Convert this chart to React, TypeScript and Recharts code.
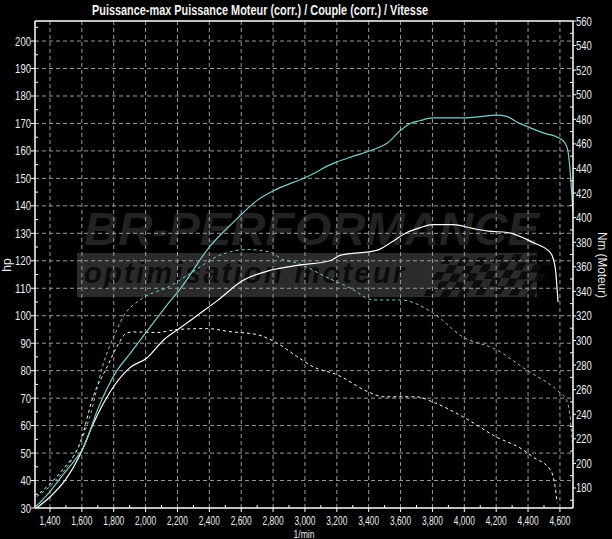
import React from 'react';
import { LineChart, Line, XAxis, YAxis, ReferenceLine } from 'recharts';

// ---- data ----
const cyanPowerRpm = [1310, 1400, 1480, 1550, 1610, 1700, 1820, 1900, 1965, 2070, 2150, 2220, 2400, 2550, 2700, 2820, 3010, 3160, 3200, 3300, 3430, 3520, 3600, 3660, 3720, 3800, 3900, 4010, 4100, 4200, 4270, 4330, 4410, 4500, 4600, 4630, 4650, 4665, 4681];
const cyanPowerHp = [30.5, 36, 42, 47, 52, 66, 80, 86, 91, 99, 105, 110, 125, 134, 142, 146, 150.5, 155, 156, 158, 160.5, 163, 167.5, 170, 171, 172, 172, 172, 172.5, 173, 172.5, 170.5, 168.5, 166.5, 164.5, 163, 160, 152, 138];

const whitePowerRpm = [1315, 1400, 1500, 1590, 1670, 1780, 1900, 2010, 2110, 2220, 2340, 2450, 2610, 2780, 2950, 3160, 3220, 3450, 3530, 3640, 3720, 3800, 3930, 4050, 4150, 4270, 4430, 4540, 4570, 4588];
const whitePowerHp = [30, 34, 40.5, 49.5, 60.5, 72.5, 81, 84.7, 91, 95.7, 100.8, 105.5, 112.8, 116.5, 118.3, 120.1, 122, 123.8, 126.3, 130.3, 132, 133.2, 133.2, 131.8, 130.8, 130.3, 126.7, 123, 117.6, 105];

const cyanTorqueRpm = [1317, 1440, 1545, 1650, 1730, 1820, 1860, 1965, 2150, 2320, 2450, 2640, 2780, 2860, 2950, 3160, 3280, 3430, 3600, 3800, 3990, 4200, 4390, 4600, 4640, 4662, 4681];
const cyanTorqueNm = [173, 186.5, 205, 238, 279, 309, 319.5, 333, 344, 358, 368.5, 374, 372, 366, 363, 350, 343, 333, 333, 322.7, 303, 292.6, 276, 257.5, 252, 240, 213];

const whiteTorqueRpm = [1337, 1480, 1590, 1670, 1760, 1820, 1880, 1920, 2070, 2200, 2385, 2530, 2700, 2820, 2950, 3050, 3200, 3410, 3490, 3700, 3800, 3990, 4200, 4370, 4430, 4540, 4570, 4582];
const whiteTorqueNm = [176, 195, 217, 254, 279, 295, 306, 307, 306.5, 309, 309.7, 307.2, 304.8, 298.3, 287, 278.7, 272.2, 257.5, 254.2, 254.2, 250.1, 238, 221.6, 211, 205.3, 194.7, 180.8, 168];

const xMajorTicks = [1400, 1600, 1800, 2000, 2200, 2400, 2600, 2800, 3000, 3200, 3400, 3600, 3800, 4000, 4200, 4400, 4600];
const xMinorTicks = [1500, 1700, 1900, 2100, 2300, 2500, 2700, 2900, 3100, 3300, 3500, 3700, 3900, 4100, 4300, 4500];
const hpMajorTicks = [30, 40, 50, 60, 70, 80, 90, 100, 110, 120, 130, 140, 150, 160, 170, 180, 190, 200];
const hpMinorTicks = [35, 45, 55, 65, 75, 85, 95, 105, 115, 125, 135, 145, 155, 165, 175, 185, 195, 205];
const nmMajorTicks = [180, 200, 220, 240, 260, 280, 300, 320, 340, 360, 380, 400, 420, 440, 460, 480, 500, 520, 540, 560];
const nmMinorTicks = [170, 190, 210, 230, 250, 270, 290, 310, 330, 350, 370, 390, 410, 430, 450, 470, 490, 510, 530, 550];

const TITLE = 'Puissance-max Puissance Moteur (corr.) / Couple (corr.) / Vitesse';

const zip = (xs: number[], ys: number[]) => xs.map((rpm, i) => ({ rpm, v: ys[i] }));
const cyanPowerData = zip(cyanPowerRpm, cyanPowerHp);
const whitePowerData = zip(whitePowerRpm, whitePowerHp);
const cyanTorqueData = zip(cyanTorqueRpm, cyanTorqueNm);
const whiteTorqueData = zip(whiteTorqueRpm, whiteTorqueNm);

const FONT = "'Liberation Sans Narrow', 'Liberation Sans', Arial, sans-serif";
const TXT = '#ececec';
const CYAN = '#7ccccc';
const GRID = '#9a9a9a';

const fmtRpm = (v: number) => `${Math.floor(v / 1000)},${String(v % 1000).padStart(3, '0')}`;

const XTick = (props: any) => {
  const { x, y, payload } = props;
  const v = payload.value as number;
  const major = xMajorTicks.includes(v);
  return (
    <g>
      <line x1={x} x2={x} y1={y - (major ? 0 : 3)} y2={y + (major ? 4 : 0)} stroke="#fff" strokeWidth={1} />
      {major && (
        <text x={x} y={y + 16.5} textAnchor="middle" fill={TXT} fontSize={13} fontFamily={FONT} textLength={21} lengthAdjust="spacingAndGlyphs">
          {fmtRpm(v)}
        </text>
      )}
    </g>
  );
};

const LeftTick = (props: any) => {
  const { x, y, payload } = props;
  const v = payload.value as number;
  const major = hpMajorTicks.includes(v);
  const s = String(v);
  return (
    <g>
      <line x1={x - (major ? 4 : 0)} x2={x + (major ? 0 : 3)} y1={y} y2={y} stroke="#fff" strokeWidth={1} />
      {major && (
        <text x={x - 4} y={y + 4.5} textAnchor="end" fill={TXT} fontSize={13} fontFamily={FONT} textLength={s.length * 5.3} lengthAdjust="spacingAndGlyphs">
          {s}
        </text>
      )}
    </g>
  );
};

const RightTick = (props: any) => {
  const { x, y, payload } = props;
  const v = payload.value as number;
  const major = nmMajorTicks.includes(v);
  const s = String(v);
  return (
    <g>
      <line x1={x - (major ? 0 : 3)} x2={x + (major ? 3 : 0)} y1={y} y2={y} stroke="#fff" strokeWidth={1} />
      {major && (
        <text x={x + 3} y={y + 4.5} textAnchor="start" fill={TXT} fontSize={13} fontFamily={FONT} textLength={s.length * 5.3} lengthAdjust="spacingAndGlyphs">
          {s}
        </text>
      )}
    </g>
  );
};

const checkers = (() => {
  const cells: { c: number; r: number }[] = [];
  for (let r = 0; r < 5; r++) {
    for (let c = 0; c < 13; c++) {
      if ((r + c) % 2 === 0) cells.push({ c, r });
    }
  }
  return cells;
})();

const Background = () => (
  <svg width={612} height={539} style={{ position: 'absolute', left: 0, top: 0 }}>
    <rect x={0} y={0} width={612} height={539} fill="#000" />
    <text x={260} y={15} textAnchor="middle" fill="#f2f2f2" fontSize={14.5} fontWeight="bold" fontFamily={FONT} textLength={336} lengthAdjust="spacingAndGlyphs">
      {TITLE}
    </text>
    {/* watermark */}
    <text x={84} y={245} fill="#222222" fontSize={46} fontWeight="bold" fontStyle="italic" fontFamily="'Liberation Sans', Arial, sans-serif" textLength={455} lengthAdjust="spacingAndGlyphs">
      BR-PERFORMANCE
    </text>
    <rect x={77} y={253} width={460} height={44} fill="#2b2b2b" />
    <text x={84} y={283} fill="#0b0b0b" fontSize={29} fontWeight="bold" fontStyle="italic" fontFamily="'Liberation Sans', Arial, sans-serif" textLength={320} lengthAdjust="spacing">
      optimisation moteur
    </text>
    <g transform="translate(425,256) skewX(-28)">
      {checkers.map((k, i) => (
        <rect key={i} x={k.c * 8.5 + 20} y={k.r * 8 + Math.sin(k.c * 0.6) * 2} width={8.5} height={8} fill="#0d0d0d" />
      ))}
    </g>
    <text x={7} y={265} transform="rotate(-90 7 265)" textAnchor="middle" dominantBaseline="central" fill={TXT} fontSize={12} fontFamily={FONT}>
      hp
    </text>
    <text x={602} y={265} transform="rotate(90 602 265)" textAnchor="middle" dominantBaseline="central" fill={TXT} fontSize={12.5} fontFamily={FONT} textLength={66} lengthAdjust="spacingAndGlyphs">
      Nm (Moteur)
    </text>
    <text x={304} y={538} textAnchor="middle" fill={TXT} fontSize={11.5} fontFamily={FONT} textLength={21} lengthAdjust="spacingAndGlyphs">
      1/min
    </text>
  </svg>
);

export default function App() {
  const xTicks = [...xMajorTicks, ...xMinorTicks].sort((a, b) => a - b);
  const hpTicks = [...hpMajorTicks, ...hpMinorTicks].sort((a, b) => a - b);
  const nmTicks = [...nmMajorTicks, ...nmMinorTicks].sort((a, b) => a - b);
  return (
    <div style={{ position: 'absolute', left: 0, top: 0, width: 612, height: 539, background: '#000' }}>
      <Background />
      <div style={{ position: 'absolute', left: 0, top: 0 }}>
        <LineChart width={612} height={539} margin={{ top: 21, right: 0, left: 0, bottom: 0 }}>
          <XAxis
            xAxisId="x"
            type="number"
            dataKey="rpm"
            domain={[1306, 4682]}
            allowDataOverflow
            ticks={xTicks}
            interval={0}
            height={31}
            tickSize={0}
            tickMargin={0}
            tickLine={false}
            axisLine={{ stroke: '#fff', strokeWidth: 1.5 }}
            tick={<XTick />}
          />
          <YAxis
            yAxisId="hp"
            orientation="left"
            type="number"
            domain={[30, 207.3]}
            allowDataOverflow
            ticks={hpTicks}
            interval={0}
            width={35}
            tickSize={0}
            tickMargin={0}
            tickLine={false}
            axisLine={{ stroke: '#fff', strokeWidth: 1.5 }}
            tick={<LeftTick />}
          />
          <YAxis
            yAxisId="nm"
            orientation="right"
            type="number"
            domain={[163.7, 560]}
            allowDataOverflow
            ticks={nmTicks}
            interval={0}
            width={39}
            tickSize={0}
            tickMargin={0}
            tickLine={false}
            axisLine={{ stroke: '#fff', strokeWidth: 1.5 }}
            tick={<RightTick />}
          />
          {xMajorTicks.map((v) => (
            <ReferenceLine key={'vx' + v} xAxisId="x" yAxisId="hp" x={v} stroke={GRID} strokeDasharray="4 3" />
          ))}
          {hpMajorTicks.filter((v) => v > 30).map((v) => (
            <ReferenceLine key={'hy' + v} xAxisId="x" yAxisId="hp" y={v} stroke={GRID} strokeDasharray="4 3" />
          ))}
          <ReferenceLine xAxisId="x" yAxisId="hp" y={207.3} stroke="#fff" strokeWidth={1.5} />
          <Line xAxisId="x" yAxisId="nm" data={whiteTorqueData} dataKey="v" type="monotone" stroke="#ffffff" strokeWidth={1} strokeDasharray="3 3" dot={false} isAnimationActive={false} />
          <Line xAxisId="x" yAxisId="nm" data={cyanTorqueData} dataKey="v" type="monotone" stroke={CYAN} strokeWidth={1} strokeDasharray="3 3" dot={false} isAnimationActive={false} />
          <Line xAxisId="x" yAxisId="hp" data={whitePowerData} dataKey="v" type="monotone" stroke="#ffffff" strokeWidth={1.2} dot={false} isAnimationActive={false} />
          <Line xAxisId="x" yAxisId="hp" data={cyanPowerData} dataKey="v" type="monotone" stroke={CYAN} strokeWidth={1.2} dot={false} isAnimationActive={false} />
        </LineChart>
      </div>
    </div>
  );
}
